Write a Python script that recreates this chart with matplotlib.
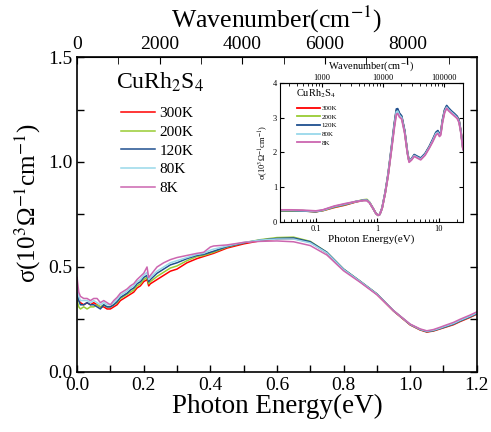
import matplotlib
matplotlib.use("Agg")
import matplotlib.pyplot as plt
from matplotlib.ticker import MultipleLocator

plt.rcParams['font.family'] = 'Liberation Serif'
plt.rcParams['mathtext.fontset'] = 'stix'

EV2CM = 8065.54

labels = ["300K", "200K", "120K", "80K", "8K"]
colors = ["#ff0000", "#99cc33", "#1f4f8f", "#99d8ea", "#cc66b0"]

# main panel: photon energy (eV)
energy = [0.000, 0.005, 0.010, 0.020, 0.030, 0.040, 0.050, 0.060, 0.070, 0.080,
          0.090, 0.100, 0.110, 0.120, 0.130, 0.140, 0.150, 0.160, 0.170, 0.180,
          0.190, 0.200, 0.210, 0.215, 0.220, 0.240, 0.260, 0.280, 0.300, 0.330,
          0.360, 0.380, 0.400, 0.410, 0.450, 0.500, 0.550, 0.600, 0.650, 0.700,
          0.750, 0.800, 0.850, 0.900, 0.950, 1.000, 1.030, 1.050, 1.070, 1.090,
          1.100, 1.130, 1.150, 1.180, 1.200]

sig_300 = [0.37, 0.34, 0.33, 0.32, 0.33, 0.32, 0.33, 0.32, 0.31, 0.31,
           0.30, 0.30, 0.31, 0.32, 0.34, 0.35, 0.36, 0.37, 0.38, 0.40,
           0.41, 0.43, 0.44, 0.41, 0.42, 0.44, 0.46, 0.48, 0.49, 0.52,
           0.54, 0.55, 0.56, 0.565, 0.59, 0.61, 0.625, 0.633, 0.635, 0.618,
           0.567, 0.487, 0.43, 0.37, 0.29, 0.224, 0.200, 0.190, 0.195, 0.205,
           0.21, 0.225, 0.24, 0.26, 0.275]
sig_200 = [0.34, 0.31, 0.30, 0.31, 0.30, 0.31, 0.31, 0.32, 0.31, 0.32,
           0.31, 0.31, 0.32, 0.33, 0.35, 0.36, 0.37, 0.38, 0.39, 0.41,
           0.42, 0.44, 0.45, 0.42, 0.43, 0.455, 0.475, 0.495, 0.505, 0.53,
           0.55, 0.555, 0.565, 0.57, 0.595, 0.615, 0.63, 0.64, 0.642, 0.622,
           0.57, 0.49, 0.432, 0.372, 0.292, 0.226, 0.202, 0.192, 0.197, 0.207,
           0.212, 0.228, 0.243, 0.263, 0.278]
sig_120 = [0.38, 0.34, 0.32, 0.32, 0.33, 0.32, 0.32, 0.31, 0.30, 0.32,
           0.31, 0.31, 0.32, 0.335, 0.355, 0.365, 0.375, 0.39, 0.40, 0.42,
           0.43, 0.45, 0.46, 0.43, 0.44, 0.47, 0.49, 0.51, 0.52, 0.54,
           0.555, 0.56, 0.57, 0.575, 0.597, 0.615, 0.628, 0.636, 0.638, 0.62,
           0.57, 0.49, 0.432, 0.372, 0.292, 0.226, 0.202, 0.192, 0.197, 0.207,
           0.212, 0.228, 0.243, 0.263, 0.278]
sig_80 = [0.40, 0.36, 0.34, 0.34, 0.34, 0.33, 0.34, 0.33, 0.32, 0.33,
          0.32, 0.32, 0.33, 0.345, 0.365, 0.375, 0.385, 0.40, 0.41, 0.43,
          0.44, 0.46, 0.475, 0.44, 0.45, 0.48, 0.50, 0.52, 0.53, 0.545,
          0.56, 0.565, 0.58, 0.585, 0.60, 0.617, 0.628, 0.633, 0.633, 0.615,
          0.567, 0.488, 0.431, 0.371, 0.292, 0.227, 0.203, 0.194, 0.199, 0.209,
          0.215, 0.231, 0.246, 0.266, 0.281]
sig_8 = [0.45, 0.38, 0.36, 0.35, 0.35, 0.34, 0.35, 0.35, 0.33, 0.34,
         0.33, 0.32, 0.34, 0.355, 0.375, 0.385, 0.395, 0.41, 0.42, 0.44,
         0.455, 0.47, 0.50, 0.45, 0.46, 0.50, 0.52, 0.535, 0.545, 0.555,
         0.565, 0.57, 0.595, 0.60, 0.605, 0.617, 0.622, 0.624, 0.62, 0.602,
         0.557, 0.482, 0.427, 0.368, 0.292, 0.228, 0.205, 0.196, 0.202, 0.213,
         0.219, 0.236, 0.251, 0.271, 0.286]

# inset: broad range on log scale
energy_in = [0.026, 0.04, 0.06, 0.08, 0.1, 0.13, 0.2, 0.3, 0.45, 0.6,
             0.68, 0.75, 0.85, 0.95, 1.03, 1.1, 1.2, 1.35, 1.5, 1.7,
             1.9, 2.05, 2.15, 2.3, 2.5, 2.8, 3.1, 3.3, 3.6, 4.0,
             4.5, 5.1, 6.0, 7.0, 8.0, 9.0, 9.7, 10.3, 10.8, 11.5,
             12.5, 13.5, 14.5, 16.0, 18.0, 20.0, 21.5, 23.0, 24.9]
in_300 = [0.33, 0.33, 0.33, 0.31, 0.30, 0.33, 0.42, 0.49, 0.58, 0.625,
          0.63, 0.56, 0.40, 0.25, 0.195, 0.22, 0.40, 0.85, 1.35, 2.1,
          2.8, 3.2, 3.22, 3.1, 3.02, 2.6, 2.0, 1.75, 1.8, 1.92,
          1.87, 1.82, 1.95, 2.15, 2.35, 2.55, 2.6, 2.5, 2.55, 2.9,
          3.2, 3.32, 3.25, 3.18, 3.1, 3.02, 2.9, 2.6, 2.1]
in_200 = [0.32, 0.32, 0.32, 0.31, 0.30, 0.33, 0.43, 0.50, 0.59, 0.64,
          0.65, 0.57, 0.40, 0.25, 0.195, 0.22, 0.40, 0.85, 1.35, 2.1,
          2.8, 3.2, 3.22, 3.1, 3.02, 2.6, 2.0, 1.75, 1.8, 1.92,
          1.87, 1.82, 1.95, 2.15, 2.35, 2.55, 2.6, 2.5, 2.55, 2.9,
          3.2, 3.32, 3.25, 3.18, 3.1, 3.02, 2.9, 2.6, 2.1]
in_120 = [0.33, 0.33, 0.32, 0.31, 0.30, 0.34, 0.44, 0.51, 0.59, 0.63,
          0.63, 0.56, 0.40, 0.25, 0.195, 0.22, 0.41, 0.87, 1.38, 2.15,
          2.85, 3.25, 3.26, 3.13, 3.05, 2.63, 2.02, 1.76, 1.82, 1.94,
          1.89, 1.84, 1.97, 2.17, 2.38, 2.58, 2.63, 2.53, 2.58, 2.93,
          3.23, 3.35, 3.28, 3.2, 3.12, 3.04, 2.92, 2.62, 2.12]
in_80 = [0.34, 0.34, 0.33, 0.32, 0.31, 0.34, 0.45, 0.52, 0.59, 0.625,
         0.625, 0.56, 0.40, 0.25, 0.195, 0.22, 0.40, 0.85, 1.35, 2.1,
         2.78, 3.17, 3.19, 3.07, 3.0, 2.58, 1.99, 1.74, 1.8, 1.91,
         1.86, 1.81, 1.94, 2.14, 2.34, 2.54, 2.58, 2.49, 2.54, 2.88,
         3.18, 3.3, 3.23, 3.16, 3.08, 3.0, 2.88, 2.58, 2.09]
in_8 = [0.35, 0.35, 0.34, 0.33, 0.32, 0.35, 0.46, 0.53, 0.59, 0.62,
        0.615, 0.55, 0.40, 0.25, 0.195, 0.22, 0.39, 0.83, 1.32, 2.05,
        2.72, 3.1, 3.12, 3.02, 2.96, 2.55, 1.97, 1.72, 1.78, 1.89,
        1.84, 1.79, 1.92, 2.12, 2.31, 2.5, 2.55, 2.46, 2.5, 2.85,
        3.15, 3.27, 3.2, 3.13, 3.05, 2.98, 2.86, 2.56, 2.08]

main_series = [sig_300, sig_200, sig_120, sig_80, sig_8]
inset_series = [in_300, in_200, in_120, in_80, in_8]

fig = plt.figure(figsize=(4.91, 4.32), dpi=100)
ax = fig.add_axes([0.157, 0.139, 0.814, 0.729])

for y, c, lab in zip(main_series, colors, labels):
    ax.plot(energy, y, color=c, lw=1.1, label=lab)

ax.set_xlim(0, 1.2)
ax.set_ylim(0, 1.5)
ax.xaxis.set_major_locator(MultipleLocator(0.2))
ax.xaxis.set_minor_locator(MultipleLocator(0.1))
ax.yaxis.set_major_locator(MultipleLocator(0.5))
ax.yaxis.set_minor_locator(MultipleLocator(0.25))
ax.tick_params(which='both', direction='in', right=True, labelsize=14, width=1, length=5)
ax.set_xlabel('Photon Energy(eV)', fontsize=19.5, labelpad=0)
ax.set_ylabel('σ(10$^3$Ω$^{-1}$cm$^{-1}$)', fontsize=18, labelpad=2)
ax.yaxis.set_label_coords(-0.085, 0.535)
for s in ax.spines.values():
    s.set_linewidth(1.2)

top = ax.secondary_xaxis('top', functions=(lambda e: e * EV2CM, lambda w: w / EV2CM))
top.set_xticks([0, 2000, 4000, 6000, 8000])
top.xaxis.set_minor_locator(MultipleLocator(1000))
top.tick_params(which='both', direction='in', labelsize=14, length=5, pad=3)
top.set_xlabel('Wavenumber(cm$^{-1}$)', fontsize=18.5, labelpad=6)

ax.text(0.097, 0.92, 'CuRh$_2$S$_4$', transform=ax.transAxes, fontsize=17,
        ha='left', va='center')
ax.legend(loc='upper left', bbox_to_anchor=(0.095, 0.862), frameon=False,
          fontsize=11, handlelength=2.2, handletextpad=0.3, labelspacing=0.33,
          borderaxespad=0)

# inset
ins = fig.add_axes([0.570, 0.486, 0.373, 0.322])
for y, c, lab in zip(inset_series, colors, labels):
    ins.plot(energy_in, y, color=c, lw=1.3, label=lab)
ins.set_xscale('log')
ins.set_xlim(0.026, 24.9)
ins.set_ylim(0, 4)
ins.yaxis.set_major_locator(MultipleLocator(1))
ins.tick_params(which='both', direction='in', right=True, labelsize=6, pad=2)
ins.tick_params(which='major', length=3)
ins.tick_params(which='minor', length=2)
ins.set_xticks([0.1, 1, 10])
ins.set_xticklabels(['0.1', '1', '10'])
ins.set_xlabel('Photon Energy(eV)', fontsize=8, labelpad=1)
ins.set_ylabel('σ(10$^3$Ω$^{-1}$cm$^{-1}$)', fontsize=6, labelpad=2)
for s in ins.spines.values():
    s.set_linewidth(0.8)

itop = ins.secondary_xaxis('top', functions=(lambda e: e * EV2CM, lambda w: w / EV2CM))
itop.set_xticks([1000, 10000, 100000])
itop.set_xticklabels(['1000', '10000', '100000'])
itop.tick_params(which='both', direction='in', labelsize=6, pad=1)
itop.tick_params(which='major', length=3)
itop.tick_params(which='minor', length=2)
itop.set_xlabel('Wavenumber(cm$^{-1}$)', fontsize=7.5, labelpad=2.5)

ins.text(0.09, 0.92, 'CuRh$_2$S$_4$', transform=ins.transAxes, fontsize=7.5,
         ha='left', va='center')
ins.legend(loc='upper left', bbox_to_anchor=(0.08, 0.86), frameon=False,
           fontsize=5, handlelength=3.2, handletextpad=0.3, labelspacing=0.4,
           borderaxespad=0)

fig.savefig('out.png', dpi=100)
